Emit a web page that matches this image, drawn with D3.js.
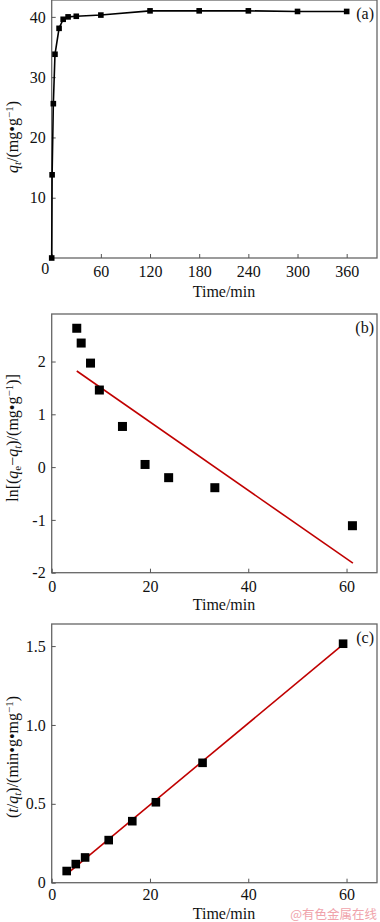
<!DOCTYPE html>
<html>
<head>
<meta charset="utf-8">
<script src="https://cdn.jsdelivr.net/npm/d3@7"></script>
<style>
    body { margin: 0; background: #fff; }
    svg { display: block; }
    .tick text { font-family: "Liberation Serif", "Times New Roman", serif; font-size: 16px; fill: #111; }
    .tick line { stroke: #555; }
    .title { font-family: "Liberation Serif", "Times New Roman", serif; font-size: 16px; fill: #111; }
</style>
</head>
<body>
<div id="chart"></div>
<script>
// (a) adsorption capacity vs time
const timeA = [0, 0.5, 2, 4, 9, 14, 20, 30, 60, 120, 180, 240, 300, 360];
const qtA = [0, 13.8, 25.6, 33.8, 38.1, 39.6, 40.0, 40.1, 40.3, 41.0, 41.0, 41.0, 40.9, 40.9];

// (b) pseudo-first-order
const timeB = [5.1, 6.0, 7.9, 9.7, 14.4, 19.0, 23.8, 33.2, 61.2];
const lnB = [2.63, 2.35, 1.97, 1.46, 0.77, 0.05, -0.20, -0.39, -1.11];
const fitTimeB = [5.1, 61.3];
const fitLnB = [1.82, -1.82];

// (c) pseudo-second-order
const timeC = [3.05, 4.9, 6.8, 11.6, 16.4, 21.2, 30.7, 59.3];
const tqC = [0.074, 0.118, 0.16, 0.27, 0.39, 0.51, 0.76, 1.515];
const fitTimeC = [3.05, 59.5];
const fitTqC = [0.055, 1.515];

const ticksXA = [0, 60, 120, 180, 240, 300, 360];
const ticksYA = [10, 20, 30, 40];
const ticksXB = [0, 20, 40, 60];
const ticksYB = [-2, -1, 0, 1, 2];
const ticksYC = [0, 0.5, 1.0, 1.5];

const width = 380, height = 922;
const left = 51.7, right = 377;
const frameColor = "#666";
const fitColor = "#c00000";

const svg = d3.select("#chart").append("svg")
    .attr("width", width)
    .attr("height", height);

function panel(opts) {
    const x = d3.scaleLinear().domain(opts.xDomain).range([left, right]);
    const y = d3.scaleLinear().domain(opts.yDomain).range([opts.bottom, opts.top]);
    const g = svg.append("g");

    g.append("rect")
        .attr("x", left)
        .attr("y", opts.top)
        .attr("width", right - left)
        .attr("height", opts.bottom - opts.top)
        .attr("fill", "none")
        .attr("stroke", frameColor)
        .attr("stroke-width", 1.3);

    const xAxis = g.append("g")
        .attr("transform", "translate(0," + opts.bottom + ")")
        .call(d3.axisBottom(x).tickValues(opts.xTicks).tickSizeInner(-4).tickSizeOuter(0).tickPadding(opts.xPad || 8));
    xAxis.select(".domain").remove();

    const yAxis = g.append("g")
        .attr("transform", "translate(" + left + ",0)")
        .call(d3.axisLeft(y).tickValues(opts.yTicks).tickSizeInner(-4).tickSizeOuter(0).tickPadding(6)
            .tickFormat(opts.yFormat || (d => d < 0 ? "-" + (-d) : String(d))));
    yAxis.select(".domain").remove();

    g.append("text")
        .attr("class", "title")
        .attr("x", 224)
        .attr("y", opts.bottom + opts.titleOffset)
        .attr("text-anchor", "middle")
        .text("Time/min");

    g.append("text")
        .attr("class", "title")
        .attr("x", 374)
        .attr("y", opts.top + opts.tagOffset)
        .attr("text-anchor", "end")
        .text(opts.tag);

    return {g, x, y, xAxis};
}

function yTitle(cy, parts) {
    const t = svg.append("text")
        .attr("class", "title")
        .attr("text-anchor", "middle")
        .attr("transform", "translate(18," + cy + ") rotate(-90)");
    parts.forEach(p => {
        const s = t.append("tspan").text(p.t);
        if (p.i) s.attr("font-style", "italic");
        if (p.sub) s.attr("baseline-shift", "-25%").attr("font-size", "11px");
        if (p.sup) s.attr("baseline-shift", "45%").attr("font-size", "11px");
    });
}

// ---- (a)
const a = panel({
    xDomain: [0, 397], yDomain: [0, 42.8], top: 0, bottom: 258,
    xTicks: ticksXA, yTicks: ticksYA, titleOffset: 39, tag: "(a)", tagOffset: 19
});
a.xAxis.selectAll(".tick text").filter(d => d === 0).attr("dx", -7).attr("dy", "0.5em");

const dataA = timeA.map((t, i) => [t, qtA[i]]);
a.g.append("path")
    .datum(dataA)
    .attr("fill", "none")
    .attr("stroke", "#000")
    .attr("stroke-width", 1.6)
    .attr("d", d3.line().x(d => a.x(d[0])).y(d => a.y(d[1])));
a.g.selectAll("rect.pt")
    .data(dataA)
    .enter().append("rect")
    .attr("class", "pt")
    .attr("x", d => a.x(d[0]) - 2.8)
    .attr("y", d => a.y(d[1]) - 2.8)
    .attr("width", 5.6)
    .attr("height", 5.6)
    .attr("fill", "#000");

yTitle(137, [{t: "q", i: true}, {t: "t", i: true, sub: true}, {t: "/(mg•g"}, {t: "−1", sup: true}, {t: ")"}]);

// ---- (b)
const b = panel({
    xDomain: [0, 66.2], yDomain: [-2, 2.9], top: 314, bottom: 572.7,
    xTicks: ticksXB, yTicks: ticksYB, titleOffset: 37, tag: "(b)", tagOffset: 19
});
b.g.append("path")
    .datum(fitTimeB.map((t, i) => [t, fitLnB[i]]))
    .attr("fill", "none")
    .attr("stroke", fitColor)
    .attr("stroke-width", 1.6)
    .attr("d", d3.line().x(d => b.x(d[0])).y(d => b.y(d[1])));
b.g.selectAll("rect.pt")
    .data(timeB.map((t, i) => [t, lnB[i]]))
    .enter().append("rect")
    .attr("class", "pt")
    .attr("x", d => b.x(d[0]) - 4.5)
    .attr("y", d => b.y(d[1]) - 4.5)
    .attr("width", 9)
    .attr("height", 9)
    .attr("fill", "#000");

yTitle(438, [{t: "ln[("}, {t: "q", i: true}, {t: "e", sub: true}, {t: "−"}, {t: "q", i: true}, {t: "t", i: true, sub: true},
    {t: ")/(mg•g"}, {t: "−1", sup: true}, {t: ")]"}]);

// ---- (c)
const c = panel({
    xDomain: [0, 66.2], yDomain: [0, 1.64], top: 624, bottom: 882.7,
    xTicks: ticksXB, yTicks: ticksYC, titleOffset: 36, tag: "(c)", tagOffset: 19, xPad: 6,
    yFormat: d => d === 0 ? "0" : d.toFixed(1)
});
c.g.append("path")
    .datum(fitTimeC.map((t, i) => [t, fitTqC[i]]))
    .attr("fill", "none")
    .attr("stroke", fitColor)
    .attr("stroke-width", 1.6)
    .attr("d", d3.line().x(d => c.x(d[0])).y(d => c.y(d[1])));
c.g.selectAll("rect.pt")
    .data(timeC.map((t, i) => [t, tqC[i]]))
    .enter().append("rect")
    .attr("class", "pt")
    .attr("x", d => c.x(d[0]) - 4.3)
    .attr("y", d => c.y(d[1]) - 4.3)
    .attr("width", 8.6)
    .attr("height", 8.6)
    .attr("fill", "#000");

yTitle(757, [{t: "("}, {t: "t", i: true}, {t: "/"}, {t: "q", i: true}, {t: "t", i: true, sub: true},
    {t: ")/(min•g•mg"}, {t: "−1", sup: true}, {t: ")"}]);

// watermark
svg.append("text")
    .attr("x", 377)
    .attr("y", 919)
    .attr("text-anchor", "end")
    .attr("font-family", "'Noto Sans CJK SC', sans-serif")
    .attr("font-size", 12.5)
    .attr("fill", "#f0a3ab")
    .text("@有色金属在线");
</script>
</body>
</html>
